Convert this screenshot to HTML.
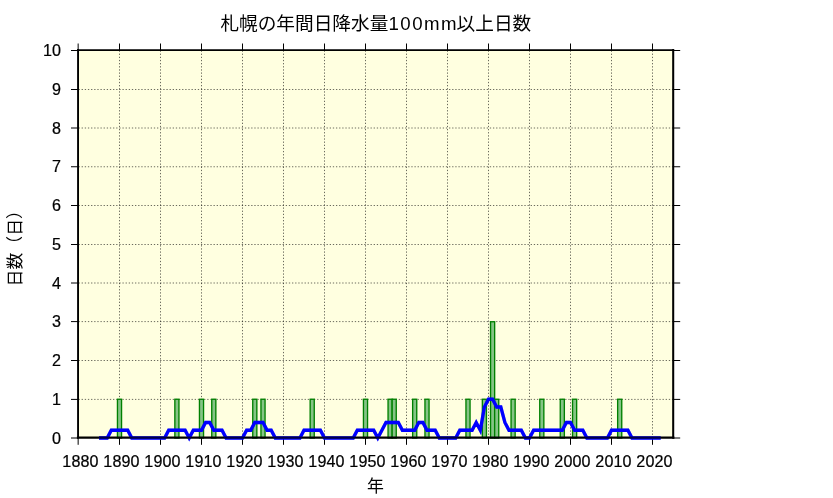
<!DOCTYPE html>
<html lang="ja"><head><meta charset="utf-8"><title>札幌の年間日降水量100mm以上日数</title>
<style>html,body{margin:0;padding:0;background:#fff;}body{width:833px;height:498px;overflow:hidden;font-family:"Liberation Sans",sans-serif;}svg{display:block;}</style>
</head><body>
<svg width="833" height="498" viewBox="0 0 833 498" style="will-change:transform" role="img" aria-label="札幌の年間日降水量100mm以上日数">
<title>札幌の年間日降水量100mm以上日数</title>
<desc>札幌の年間日降水量100mm以上日数。横軸: 年 (1880–2020)、縦軸: 日数（日） (0–10)。緑の棒: 年ごとの日数、青線: 5年移動平均。</desc>
<rect width="833" height="498" fill="#fff"/>
<path d="M78.05 50.1 H673.2 V437.6 H78.05 Z" fill="#ffffe0"/>
<path d="M119.50 438.0 V50.5" stroke="#000" stroke-opacity="0.58" stroke-width="1" stroke-dasharray="1.3 1.84" fill="none"/>
<path d="M160.50 438.0 V50.5" stroke="#000" stroke-opacity="0.58" stroke-width="1" stroke-dasharray="1.3 1.84" fill="none"/>
<path d="M201.50 438.0 V50.5" stroke="#000" stroke-opacity="0.58" stroke-width="1" stroke-dasharray="1.3 1.84" fill="none"/>
<path d="M242.50 438.0 V50.5" stroke="#000" stroke-opacity="0.58" stroke-width="1" stroke-dasharray="1.3 1.84" fill="none"/>
<path d="M283.50 438.0 V50.5" stroke="#000" stroke-opacity="0.58" stroke-width="1" stroke-dasharray="1.3 1.84" fill="none"/>
<path d="M324.50 438.0 V50.5" stroke="#000" stroke-opacity="0.58" stroke-width="1" stroke-dasharray="1.3 1.84" fill="none"/>
<path d="M365.50 438.0 V50.5" stroke="#000" stroke-opacity="0.58" stroke-width="1" stroke-dasharray="1.3 1.84" fill="none"/>
<path d="M406.50 438.0 V50.5" stroke="#000" stroke-opacity="0.58" stroke-width="1" stroke-dasharray="1.3 1.84" fill="none"/>
<path d="M447.50 438.0 V50.5" stroke="#000" stroke-opacity="0.58" stroke-width="1" stroke-dasharray="1.3 1.84" fill="none"/>
<path d="M488.50 438.0 V50.5" stroke="#000" stroke-opacity="0.58" stroke-width="1" stroke-dasharray="1.3 1.84" fill="none"/>
<path d="M529.50 438.0 V50.5" stroke="#000" stroke-opacity="0.58" stroke-width="1" stroke-dasharray="1.3 1.84" fill="none"/>
<path d="M570.50 438.0 V50.5" stroke="#000" stroke-opacity="0.58" stroke-width="1" stroke-dasharray="1.3 1.84" fill="none"/>
<path d="M611.50 438.0 V50.5" stroke="#000" stroke-opacity="0.58" stroke-width="1" stroke-dasharray="1.3 1.84" fill="none"/>
<path d="M652.50 438.0 V50.5" stroke="#000" stroke-opacity="0.58" stroke-width="1" stroke-dasharray="1.3 1.84" fill="none"/>
<path d="M78.5 399.40 H673.0" stroke="#000" stroke-opacity="0.58" stroke-width="1" stroke-dasharray="1.3 1.84" fill="none"/>
<path d="M78.5 360.50 H673.0" stroke="#000" stroke-opacity="0.58" stroke-width="1" stroke-dasharray="1.3 1.84" fill="none"/>
<path d="M78.5 321.60 H673.0" stroke="#000" stroke-opacity="0.58" stroke-width="1" stroke-dasharray="1.3 1.84" fill="none"/>
<path d="M78.5 283.00 H673.0" stroke="#000" stroke-opacity="0.58" stroke-width="1" stroke-dasharray="1.3 1.84" fill="none"/>
<path d="M78.5 244.50 H673.0" stroke="#000" stroke-opacity="0.58" stroke-width="1" stroke-dasharray="1.3 1.84" fill="none"/>
<path d="M78.5 205.50 H673.0" stroke="#000" stroke-opacity="0.58" stroke-width="1" stroke-dasharray="1.3 1.84" fill="none"/>
<path d="M78.5 166.75 H673.0" stroke="#000" stroke-opacity="0.58" stroke-width="1" stroke-dasharray="1.3 1.84" fill="none"/>
<path d="M78.5 128.00 H673.0" stroke="#000" stroke-opacity="0.58" stroke-width="1" stroke-dasharray="1.3 1.84" fill="none"/>
<path d="M78.5 89.50 H673.0" stroke="#000" stroke-opacity="0.58" stroke-width="1" stroke-dasharray="1.3 1.84" fill="none"/>
<rect x="117.45" y="399.25" width="4.10" height="38.75" fill="#86c486" stroke="#008000" stroke-width="1.35"/>
<rect x="174.85" y="399.25" width="4.10" height="38.75" fill="#86c486" stroke="#008000" stroke-width="1.35"/>
<rect x="199.45" y="399.25" width="4.10" height="38.75" fill="#86c486" stroke="#008000" stroke-width="1.35"/>
<rect x="211.75" y="399.25" width="4.10" height="38.75" fill="#86c486" stroke="#008000" stroke-width="1.35"/>
<rect x="252.75" y="399.25" width="4.10" height="38.75" fill="#86c486" stroke="#008000" stroke-width="1.35"/>
<rect x="260.95" y="399.25" width="4.10" height="38.75" fill="#86c486" stroke="#008000" stroke-width="1.35"/>
<rect x="310.15" y="399.25" width="4.10" height="38.75" fill="#86c486" stroke="#008000" stroke-width="1.35"/>
<rect x="363.45" y="399.25" width="4.10" height="38.75" fill="#86c486" stroke="#008000" stroke-width="1.35"/>
<rect x="388.05" y="399.25" width="4.10" height="38.75" fill="#86c486" stroke="#008000" stroke-width="1.35"/>
<rect x="392.15" y="399.25" width="4.10" height="38.75" fill="#86c486" stroke="#008000" stroke-width="1.35"/>
<rect x="412.65" y="399.25" width="4.10" height="38.75" fill="#86c486" stroke="#008000" stroke-width="1.35"/>
<rect x="424.95" y="399.25" width="4.10" height="38.75" fill="#86c486" stroke="#008000" stroke-width="1.35"/>
<rect x="465.95" y="399.25" width="4.10" height="38.75" fill="#86c486" stroke="#008000" stroke-width="1.35"/>
<rect x="482.35" y="399.25" width="4.10" height="38.75" fill="#86c486" stroke="#008000" stroke-width="1.35"/>
<rect x="490.55" y="321.75" width="4.10" height="116.25" fill="#86c486" stroke="#008000" stroke-width="1.35"/>
<rect x="494.65" y="399.25" width="4.10" height="38.75" fill="#86c486" stroke="#008000" stroke-width="1.35"/>
<rect x="511.05" y="399.25" width="4.10" height="38.75" fill="#86c486" stroke="#008000" stroke-width="1.35"/>
<rect x="539.75" y="399.25" width="4.10" height="38.75" fill="#86c486" stroke="#008000" stroke-width="1.35"/>
<rect x="560.25" y="399.25" width="4.10" height="38.75" fill="#86c486" stroke="#008000" stroke-width="1.35"/>
<rect x="572.55" y="399.25" width="4.10" height="38.75" fill="#86c486" stroke="#008000" stroke-width="1.35"/>
<rect x="617.65" y="399.25" width="4.10" height="38.75" fill="#86c486" stroke="#008000" stroke-width="1.35"/>
<path d="M78.15 438 V444.8 M78.15 50 V43.5" stroke="#000" stroke-width="1" fill="none"/>
<path d="M119.50 438 V444.8 M119.50 50 V43.5" stroke="#000" stroke-width="1" fill="none"/>
<path d="M160.50 438 V444.8 M160.50 50 V43.5" stroke="#000" stroke-width="1" fill="none"/>
<path d="M201.50 438 V444.8 M201.50 50 V43.5" stroke="#000" stroke-width="1" fill="none"/>
<path d="M242.50 438 V444.8 M242.50 50 V43.5" stroke="#000" stroke-width="1" fill="none"/>
<path d="M283.50 438 V444.8 M283.50 50 V43.5" stroke="#000" stroke-width="1" fill="none"/>
<path d="M324.50 438 V444.8 M324.50 50 V43.5" stroke="#000" stroke-width="1" fill="none"/>
<path d="M365.50 438 V444.8 M365.50 50 V43.5" stroke="#000" stroke-width="1" fill="none"/>
<path d="M406.50 438 V444.8 M406.50 50 V43.5" stroke="#000" stroke-width="1" fill="none"/>
<path d="M447.50 438 V444.8 M447.50 50 V43.5" stroke="#000" stroke-width="1" fill="none"/>
<path d="M488.50 438 V444.8 M488.50 50 V43.5" stroke="#000" stroke-width="1" fill="none"/>
<path d="M529.50 438 V444.8 M529.50 50 V43.5" stroke="#000" stroke-width="1" fill="none"/>
<path d="M570.50 438 V444.8 M570.50 50 V43.5" stroke="#000" stroke-width="1" fill="none"/>
<path d="M611.50 438 V444.8 M611.50 50 V43.5" stroke="#000" stroke-width="1" fill="none"/>
<path d="M652.50 438 V444.8 M652.50 50 V43.5" stroke="#000" stroke-width="1" fill="none"/>
<path d="M78 438.00 H71 M673.5 438.00 H680.2" stroke="#000" stroke-width="1" fill="none"/>
<path d="M78 399.40 H71 M673.5 399.40 H680.2" stroke="#000" stroke-width="1" fill="none"/>
<path d="M78 360.50 H71 M673.5 360.50 H680.2" stroke="#000" stroke-width="1" fill="none"/>
<path d="M78 321.60 H71 M673.5 321.60 H680.2" stroke="#000" stroke-width="1" fill="none"/>
<path d="M78 283.00 H71 M673.5 283.00 H680.2" stroke="#000" stroke-width="1" fill="none"/>
<path d="M78 244.50 H71 M673.5 244.50 H680.2" stroke="#000" stroke-width="1" fill="none"/>
<path d="M78 205.50 H71 M673.5 205.50 H680.2" stroke="#000" stroke-width="1" fill="none"/>
<path d="M78 166.75 H71 M673.5 166.75 H680.2" stroke="#000" stroke-width="1" fill="none"/>
<path d="M78 128.00 H71 M673.5 128.00 H680.2" stroke="#000" stroke-width="1" fill="none"/>
<path d="M78 89.50 H71 M673.5 89.50 H680.2" stroke="#000" stroke-width="1" fill="none"/>
<path d="M78 50.50 H71 M673.5 50.50 H680.2" stroke="#000" stroke-width="1" fill="none"/>
<polyline points="99.00,438.00 103.10,438.00 107.20,438.00 111.30,430.25 115.40,430.25 119.50,430.25 123.60,430.25 127.70,430.25 131.80,438.00 135.90,438.00 140.00,438.00 144.10,438.00 148.20,438.00 152.30,438.00 156.40,438.00 160.50,438.00 164.60,438.00 168.70,430.25 172.80,430.25 176.90,430.25 181.00,430.25 185.10,430.25 189.20,438.00 193.30,430.25 197.40,430.25 201.50,430.25 205.60,422.50 209.70,422.50 213.80,430.25 217.90,430.25 222.00,430.25 226.10,438.00 230.20,438.00 234.30,438.00 238.40,438.00 242.50,438.00 246.60,430.25 250.70,430.25 254.80,422.50 258.90,422.50 263.00,422.50 267.10,430.25 271.20,430.25 275.30,438.00 279.40,438.00 283.50,438.00 287.60,438.00 291.70,438.00 295.80,438.00 299.90,438.00 304.00,430.25 308.10,430.25 312.20,430.25 316.30,430.25 320.40,430.25 324.50,438.00 328.60,438.00 332.70,438.00 336.80,438.00 340.90,438.00 345.00,438.00 349.10,438.00 353.20,438.00 357.30,430.25 361.40,430.25 365.50,430.25 369.60,430.25 373.70,430.25 377.80,438.00 381.90,430.25 386.00,422.50 390.10,422.50 394.20,422.50 398.30,422.50 402.40,430.25 406.50,430.25 410.60,430.25 414.70,430.25 418.80,422.50 422.90,422.50 427.00,430.25 431.10,430.25 435.20,430.25 439.30,438.00 443.40,438.00 447.50,438.00 451.60,438.00 455.70,438.00 459.80,430.25 463.90,430.25 468.00,430.25 472.10,430.25 476.20,422.50 480.30,430.25 484.40,407.00 488.50,399.25 492.60,399.25 496.70,407.00 500.80,407.00 504.90,422.50 509.00,430.25 513.10,430.25 517.20,430.25 521.30,430.25 525.40,438.00 529.50,438.00 533.60,430.25 537.70,430.25 541.80,430.25 545.90,430.25 550.00,430.25 554.10,430.25 558.20,430.25 562.30,430.25 566.40,422.50 570.50,422.50 574.60,430.25 578.70,430.25 582.80,430.25 586.90,438.00 591.00,438.00 595.10,438.00 599.20,438.00 603.30,438.00 607.40,438.00 611.50,430.25 615.60,430.25 619.70,430.25 623.80,430.25 627.90,430.25 632.00,438.00 636.10,438.00 640.20,438.00 644.30,438.00 648.40,438.00 652.50,438.00 656.60,438.00 660.70,438.00" fill="none" stroke="#0000ff" stroke-width="3.3" stroke-linejoin="miter"/>
<g stroke="#000" fill="none" stroke-linecap="square"><path d="M78.05 50.05 V437.6" stroke-width="1.9"/><path d="M78.05 50.05 H673.2" stroke-width="1.7"/><path d="M673.2 50.05 V437.6" stroke-width="2.05"/><path d="M78.05 437.6 H673.2" stroke-width="2.3"/></g>
<polyline points="99.00,438.00 103.10,438.00 107.20,438.00 111.30,430.25 115.40,430.25 119.50,430.25 123.60,430.25 127.70,430.25 131.80,438.00 135.90,438.00 140.00,438.00 144.10,438.00 148.20,438.00 152.30,438.00 156.40,438.00 160.50,438.00 164.60,438.00 168.70,430.25 172.80,430.25 176.90,430.25 181.00,430.25 185.10,430.25 189.20,438.00 193.30,430.25 197.40,430.25 201.50,430.25 205.60,422.50 209.70,422.50 213.80,430.25 217.90,430.25 222.00,430.25 226.10,438.00 230.20,438.00 234.30,438.00 238.40,438.00 242.50,438.00 246.60,430.25 250.70,430.25 254.80,422.50 258.90,422.50 263.00,422.50 267.10,430.25 271.20,430.25 275.30,438.00 279.40,438.00 283.50,438.00 287.60,438.00 291.70,438.00 295.80,438.00 299.90,438.00 304.00,430.25 308.10,430.25 312.20,430.25 316.30,430.25 320.40,430.25 324.50,438.00 328.60,438.00 332.70,438.00 336.80,438.00 340.90,438.00 345.00,438.00 349.10,438.00 353.20,438.00 357.30,430.25 361.40,430.25 365.50,430.25 369.60,430.25 373.70,430.25 377.80,438.00 381.90,430.25 386.00,422.50 390.10,422.50 394.20,422.50 398.30,422.50 402.40,430.25 406.50,430.25 410.60,430.25 414.70,430.25 418.80,422.50 422.90,422.50 427.00,430.25 431.10,430.25 435.20,430.25 439.30,438.00 443.40,438.00 447.50,438.00 451.60,438.00 455.70,438.00 459.80,430.25 463.90,430.25 468.00,430.25 472.10,430.25 476.20,422.50 480.30,430.25 484.40,407.00 488.50,399.25 492.60,399.25 496.70,407.00 500.80,407.00 504.90,422.50 509.00,430.25 513.10,430.25 517.20,430.25 521.30,430.25 525.40,438.00 529.50,438.00 533.60,430.25 537.70,430.25 541.80,430.25 545.90,430.25 550.00,430.25 554.10,430.25 558.20,430.25 562.30,430.25 566.40,422.50 570.50,422.50 574.60,430.25 578.70,430.25 582.80,430.25 586.90,438.00 591.00,438.00 595.10,438.00 599.20,438.00 603.30,438.00 607.40,438.00 611.50,430.25 615.60,430.25 619.70,430.25 623.80,430.25 627.90,430.25 632.00,438.00 636.10,438.00 640.20,438.00 644.30,438.00 648.40,438.00 652.50,438.00 656.60,438.00 660.70,438.00" fill="none" stroke="#0000ff" stroke-opacity="0.28" stroke-width="3.3" stroke-linejoin="miter"/>
<g font-family="'Liberation Sans', sans-serif" font-size="16.1" fill="#000" stroke="#000" stroke-width="0.22" style="filter:grayscale(1)">
<text x="62.31" y="467.20">1</text>
<text x="71.41" y="467.20">8</text>
<text x="80.50" y="467.20">8</text>
<text x="89.59" y="467.20">0</text>
<text x="103.31" y="467.20">1</text>
<text x="112.41" y="467.20">8</text>
<text x="121.50" y="467.20">9</text>
<text x="130.59" y="467.20">0</text>
<text x="144.31" y="467.20">1</text>
<text x="153.41" y="467.20">9</text>
<text x="162.50" y="467.20">0</text>
<text x="171.59" y="467.20">0</text>
<text x="185.31" y="467.20">1</text>
<text x="194.41" y="467.20">9</text>
<text x="203.50" y="467.20">1</text>
<text x="212.59" y="467.20">0</text>
<text x="226.31" y="467.20">1</text>
<text x="235.41" y="467.20">9</text>
<text x="244.50" y="467.20">2</text>
<text x="253.59" y="467.20">0</text>
<text x="267.31" y="467.20">1</text>
<text x="276.41" y="467.20">9</text>
<text x="285.50" y="467.20">3</text>
<text x="294.59" y="467.20">0</text>
<text x="308.31" y="467.20">1</text>
<text x="317.41" y="467.20">9</text>
<text x="326.50" y="467.20">4</text>
<text x="335.59" y="467.20">0</text>
<text x="349.31" y="467.20">1</text>
<text x="358.41" y="467.20">9</text>
<text x="367.50" y="467.20">5</text>
<text x="376.59" y="467.20">0</text>
<text x="390.31" y="467.20">1</text>
<text x="399.41" y="467.20">9</text>
<text x="408.50" y="467.20">6</text>
<text x="417.59" y="467.20">0</text>
<text x="431.31" y="467.20">1</text>
<text x="440.41" y="467.20">9</text>
<text x="449.50" y="467.20">7</text>
<text x="458.59" y="467.20">0</text>
<text x="472.31" y="467.20">1</text>
<text x="481.41" y="467.20">9</text>
<text x="490.50" y="467.20">8</text>
<text x="499.59" y="467.20">0</text>
<text x="513.31" y="467.20">1</text>
<text x="522.41" y="467.20">9</text>
<text x="531.50" y="467.20">9</text>
<text x="540.59" y="467.20">0</text>
<text x="554.31" y="467.20">2</text>
<text x="563.41" y="467.20">0</text>
<text x="572.50" y="467.20">0</text>
<text x="581.59" y="467.20">0</text>
<text x="595.31" y="467.20">2</text>
<text x="604.41" y="467.20">0</text>
<text x="613.50" y="467.20">1</text>
<text x="622.59" y="467.20">0</text>
<text x="636.31" y="467.20">2</text>
<text x="645.41" y="467.20">0</text>
<text x="654.50" y="467.20">2</text>
<text x="663.59" y="467.20">0</text>
<text x="52.11" y="443.65">0</text>
<text x="52.11" y="404.90">1</text>
<text x="52.11" y="366.15">2</text>
<text x="52.11" y="327.40">3</text>
<text x="52.11" y="288.65">4</text>
<text x="52.11" y="249.90">5</text>
<text x="52.11" y="211.15">6</text>
<text x="52.11" y="172.40">7</text>
<text x="52.11" y="133.65">8</text>
<text x="52.11" y="94.90">9</text>
<text x="43.01" y="56.15">1</text>
<text x="52.11" y="56.15">0</text>
</g>
<g font-family="'Liberation Sans', 'Noto Sans CJK JP', sans-serif" fill="#000" stroke="none">
<text x="220.4" y="29.5" font-size="18.67">札幌の年間日降水量</text>
<text x="388.43" y="29.5" font-size="18.67" textLength="68.2" lengthAdjust="spacing">100mm</text>
<text x="456.6" y="29.5" font-size="18.67">以上日数</text>
<text x="366.9" y="491.7" font-size="16.9">年</text>
<text transform="translate(20.9 286.5) rotate(-90)" font-size="16.9">日数（日）</text>
</g>
</svg>
</body></html>
